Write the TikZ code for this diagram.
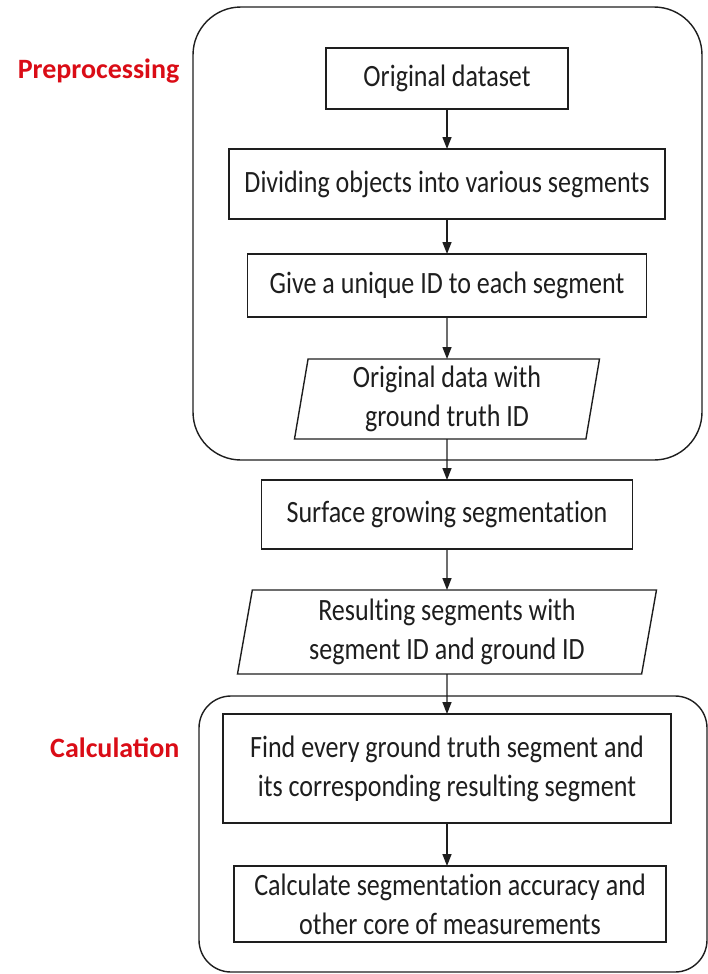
\documentclass[tikz,border=0pt]{standalone}
\usepackage{fontspec}
\setmainfont{Carlito}[FakeStretch=0.84,Ligatures=NoCommon]
\newfontfamily\lblfont{Carlito}
\usepackage{tikz}
\usetikzlibrary{arrows.meta,positioning,shapes.geometric}
\definecolor{lblred}{RGB}{218,12,22}
\definecolor{inkgray}{RGB}{30,30,30}
\tikzset{
    >={Triangle[width=9pt,length=12pt]},
    every picture/.style={line width=0.5pt},
    stepbox/.style={rectangle,draw=inkgray,line width=1.4pt,outer sep=0pt,inner sep=2pt,
        align=center,text=inkgray,font=\fontsize{31}{39}\selectfont},
    databox/.style={stepbox,trapezium,trapezium stretches=true,trapezium stretches body=true,
        trapezium left angle=79,trapezium right angle=101},
    groupbox/.style={draw=inkgray,line width=1.4pt},
    grplabel/.style={font=\lblfont\bfseries\fontsize{28}{30}\selectfont,text=lblred,anchor=base east},
    flow/.style={->,line width=1.4pt,draw=inkgray}
}

\begin{document}
\begin{tikzpicture}[x=1pt,y=1pt]
    \useasboundingbox (0,0) rectangle (708,-974);

    % Preprocessing
    \node[stepbox,minimum width=242pt,minimum height=61pt] (orig) at (447,-78.5) {Original dataset};
    \node[stepbox,minimum width=436pt,minimum height=70pt,below=40pt of orig] (divide)
        {Dividing objects into various segments};
    \node[stepbox,minimum width=399pt,minimum height=63pt,below=35pt of divide] (uid)
        {Give a unique ID to each segment};
    \node[databox,minimum width=305pt,minimum height=80pt,below=42pt of uid] (gtdata)
        {Original data with\\ground truth ID};

    % Segmentation
    \node[stepbox,minimum width=371pt,minimum height=69pt,below=41pt of gtdata] (surf)
        {Surface growing segmentation};
    \node[databox,trapezium left angle=78,trapezium right angle=102,
        minimum width=419pt,minimum height=84pt,below=41pt of surf] (resseg)
        {Resulting segments with\\segment ID and ground ID};

    % Calculation
    \node[stepbox,minimum width=448pt,minimum height=109pt,below=40pt of resseg] (find)
        {Find every ground truth segment and\\its corresponding resulting segment};
    \node[stepbox,minimum width=432pt,minimum height=76pt,below=43pt of find,xshift=3pt] (calc)
        {Calculate segmentation accuracy and\\other core of measurements};

    % group frames
    \draw[groupbox,rounded corners=48pt] (193,-7) rectangle (702,-460);
    \draw[groupbox,rounded corners=32pt] (199,-696) rectangle (707,-972);
    \node[grplabel] (prelbl) at (183,-78) {Preprocessing};
    \node[grplabel] (calclbl) at (183,-757) {Calculation};

    \draw[flow] (orig) -- (divide);
    \draw[flow] (divide) -- (uid);
    \draw[flow] (uid) -- (gtdata);
    \draw[flow] (gtdata) -- (surf);
    \draw[flow] (surf) -- (resseg);
    \draw[flow] (resseg) -- (find);
    \draw[flow] (find.south) -- (find.south |- calc.north);
\end{tikzpicture}
\end{document}
